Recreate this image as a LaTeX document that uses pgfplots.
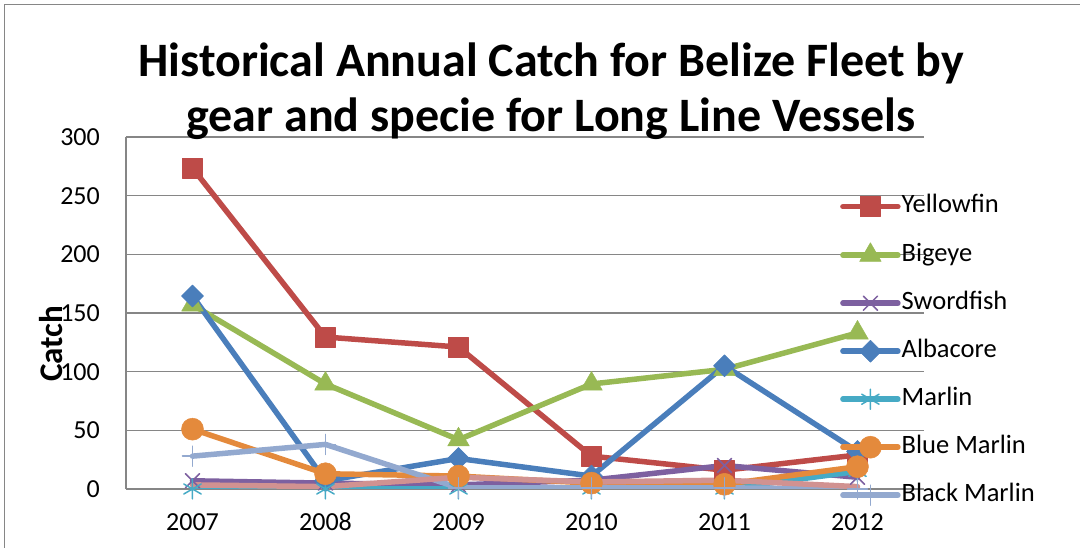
\documentclass[border=0pt]{standalone}
\usepackage{pgfplots}
\pgfplotsset{compat=1.18}
\usepackage{fontspec}
\setmainfont{Carlito}
\definecolor{cRed}{RGB}{190,75,72}
\definecolor{cGreen}{RGB}{152,185,84}
\definecolor{cPurple}{RGB}{125,96,160}
\definecolor{cBlue}{RGB}{74,126,187}
\definecolor{cTeal}{RGB}{70,170,197}
\definecolor{cOrange}{RGB}{228,138,60}
\definecolor{cLBlue}{RGB}{147,169,207}
\definecolor{cPink}{RGB}{209,146,145}
\definecolor{cGrid}{RGB}{134,134,134}
\begin{document}
\begin{tikzpicture}[x=1pt,y=1pt]
\useasboundingbox (0,0) rectangle (1080,548);
\draw[cGrid, line width=1.5pt] (4.5,0) -- (4.5,543.5) -- (1080,543.5);
\begin{axis}[
  at={(126pt,59pt)}, anchor=south west,
  scale only axis, width=798pt, height=352pt,
  xmin=-0.5, xmax=5.5, ymin=0, ymax=300,
  ytick={0,50,...,300}, xtick={0,1,2,3,4,5},
  xticklabels={2007,2008,2009,2010,2011,2012},
  axis lines*=left,
  axis line style={cGrid, line width=1.3pt},
  ymajorgrids, grid style={cGrid, line width=1.3pt},
  major tick length=0pt,
  /pgf/number format/assume math mode=true,
  tick label style={font=\fontsize{26}{30}\selectfont, text=black},
  yticklabel style={anchor=east, inner sep=0pt, xshift=-26pt},
  xticklabel style={anchor=north, inner sep=0pt, yshift=-24pt},
  ylabel={Catch},
  ylabel style={at={(rel axis cs:-0.094,0.412)}, anchor=center, font=\fontsize{33}{36}\selectfont\bfseries},
  every axis plot/.append style={line width=5.5pt, line join=round, line cap=round},
  legend image code/.code={\draw[mark repeat=2,mark phase=2] plot coordinates {(0pt,0pt) (27.5pt,0pt) (55pt,0pt)};},
  legend style={draw=none, fill=none, at={(0.8947,0.8366)}, anchor=north west,
    inner sep=0pt, column sep=1pt, row sep=24pt,
    nodes={inner sep=0pt, text height=18pt, text depth=6pt},
    font=\fontsize{26.5}{30}\selectfont},
  legend cell align=left,
]
\addplot[cRed, mark=square*, mark size=10pt, mark options={solid, line width=0.5pt}] coordinates {(0,273.5) (1,129.5) (2,121) (3,28) (4,16) (5,29)};
\addlegendentry{Yellowfin}
\addplot[cGreen, mark=triangle*, mark size=12.5pt, mark options={solid, line width=0.5pt}] coordinates {(0,157) (1,89.5) (2,42) (3,89.5) (4,102) (5,133)};
\addlegendentry{Bigeye}
\addplot[cPurple, mark=x, mark size=10pt, mark options={solid, line width=1.5pt}] coordinates {(0,7) (1,5) (2,3.5) (3,7.5) (4,20) (5,10)};
\addlegendentry{Swordfish}
\addplot[cBlue, mark=square*, mark size=7.8pt, mark options={solid, rotate=45, line width=0.5pt}] coordinates {(0,164.5) (1,7) (2,26) (3,11) (4,105) (5,32)};
\addlegendentry{Albacore}
\addplot[cTeal, mark=asterisk, mark size=10pt, mark options={solid, line width=1.5pt}] coordinates {(0,0) (1,0) (2,0) (3,0) (4,0) (5,15)};
\addlegendentry{Marlin}
\addplot[cOrange, mark=*, mark size=11pt, mark options={solid, line width=0.5pt}] coordinates {(0,51) (1,13) (2,11) (3,5) (4,4) (5,19)};
\addlegendentry{Blue Marlin}
\addplot[cLBlue, mark=+, mark size=10pt, mark options={solid, line width=1.5pt}] coordinates {(0,28) (1,38) (2,1) (3,1) (4,1) (5,0)};
\addlegendentry{Black Marlin}
\addplot[cPink, forget plot] coordinates {(0,3.5) (1,2) (2,10) (3,6) (4,7.5) (5,2)};
\end{axis}
\node[anchor=base, font=\fontsize{48}{55}\selectfont\bfseries] at (551,471) {Historical Annual Catch for Belize Fleet by};
\node[anchor=base, font=\fontsize{48}{55}\selectfont\bfseries] at (551,416) {gear and specie for Long Line Vessels};
\end{tikzpicture}
\end{document}
